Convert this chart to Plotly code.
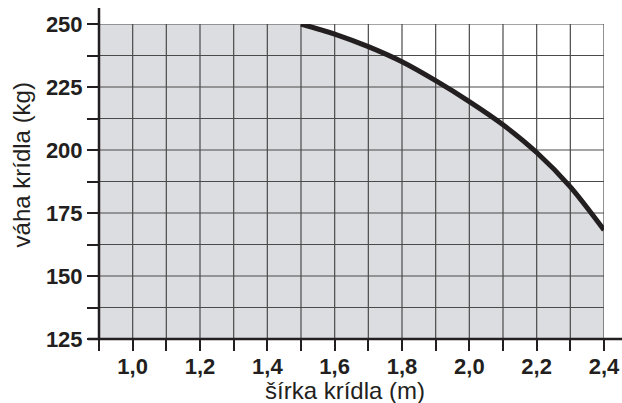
import plotly.graph_objects as go

# Data
curve_x = [1.5, 1.6, 1.7, 1.8, 1.9, 2.0, 2.1, 2.2, 2.3, 2.4]
curve_y = [250, 246, 241, 235, 227.5, 219.2, 210, 199, 185.4, 168.3]

x_ticks = [round(0.9 + 0.1 * i, 1) for i in range(16)]
x_labels = ["" if i % 2 == 0 else f"{v:.1f}".replace(".", ",") for i, v in enumerate(x_ticks)]
y_ticks = [125 + 12.5 * i for i in range(11)]
y_labels = [str(int(v)) if v % 25 == 0 else "" for v in y_ticks]

x_title = "šírka krídla (m)"
y_title = "váha krídla (kg)"

FILL = "#dcdde0"
GRID = "#4a4a4a"
INK = "#231f20"

fig = go.Figure()

# shaded region under curve (flat at 250 before the curve)
fig.add_trace(go.Scatter(
    x=[x_ticks[0]] + curve_x, y=[y_ticks[-1]] + curve_y,
    mode="lines", line=dict(width=0, shape="spline", smoothing=0.8), fill="tozeroy",
    fillcolor=FILL, hoverinfo="skip", showlegend=False))

# grid drawn above the fill
gx, gy = [], []
for v in x_ticks[1:]:
    gx += [v, v, None]
    gy += [y_ticks[0], y_ticks[-1], None]
for v in y_ticks[1:]:
    gx += [x_ticks[0], x_ticks[-1], None]
    gy += [v, v, None]
fig.add_trace(go.Scatter(x=gx, y=gy, mode="lines", line=dict(color=GRID, width=1.2),
                         hoverinfo="skip", showlegend=False))

# curve
fig.add_trace(go.Scatter(x=curve_x, y=curve_y, mode="lines",
                         line=dict(color=INK, width=5, shape="spline", smoothing=0.8),
                         showlegend=False))

tickfont = dict(family="Liberation Sans", size=22, color=INK, weight="bold")
titlefont = dict(family="Liberation Sans", size=24, color=INK)

fig.update_layout(
    width=622, height=403,
    margin=dict(l=99, r=18, t=24, b=64, autoexpand=False),
    paper_bgcolor="white", plot_bgcolor="white",
    xaxis=dict(range=[x_ticks[0], x_ticks[-1]], tickvals=x_ticks, ticktext=x_labels,
               ticks="outside", ticklen=11, tickwidth=2, tickcolor=INK,
               showgrid=False, zeroline=False, showline=False, ticklabelstandoff=-3,
               tickfont=tickfont, fixedrange=True, automargin=False),
    yaxis=dict(range=[y_ticks[0], y_ticks[-1]], tickvals=y_ticks, ticktext=y_labels,
               ticks="outside", ticklen=11, tickwidth=2, tickcolor=INK,
               showgrid=False, zeroline=False, showline=False,
               tickfont=tickfont, fixedrange=True, automargin=False),
    shapes=[
        dict(type="line", xref="paper", yref="paper", x0=0, x1=0, y0=-0.003, y1=1.051,
             line=dict(color=INK, width=2.5)),
        dict(type="line", xref="paper", yref="paper", x0=-0.022, x1=1.04, y0=0, y1=0,
             line=dict(color=INK, width=2.5)),
    ],
    annotations=[
        dict(text=x_title, xref="paper", yref="paper", x=0.487, y=0, yshift=-51,
             showarrow=False, xanchor="center", yanchor="middle", font=titlefont),
        dict(text=y_title, xref="paper", yref="paper", x=0, xshift=-78, y=0.551,
             showarrow=False, xanchor="center", yanchor="middle", textangle=-90,
             font=titlefont),
    ],
)

fig.write_html(
    "out.html",
    config={"displayModeBar": False},
    post_script="document.documentElement.style.overflow='hidden';"
                "document.body.style.overflow='hidden';"
                "document.body.style.margin='0';",
)
